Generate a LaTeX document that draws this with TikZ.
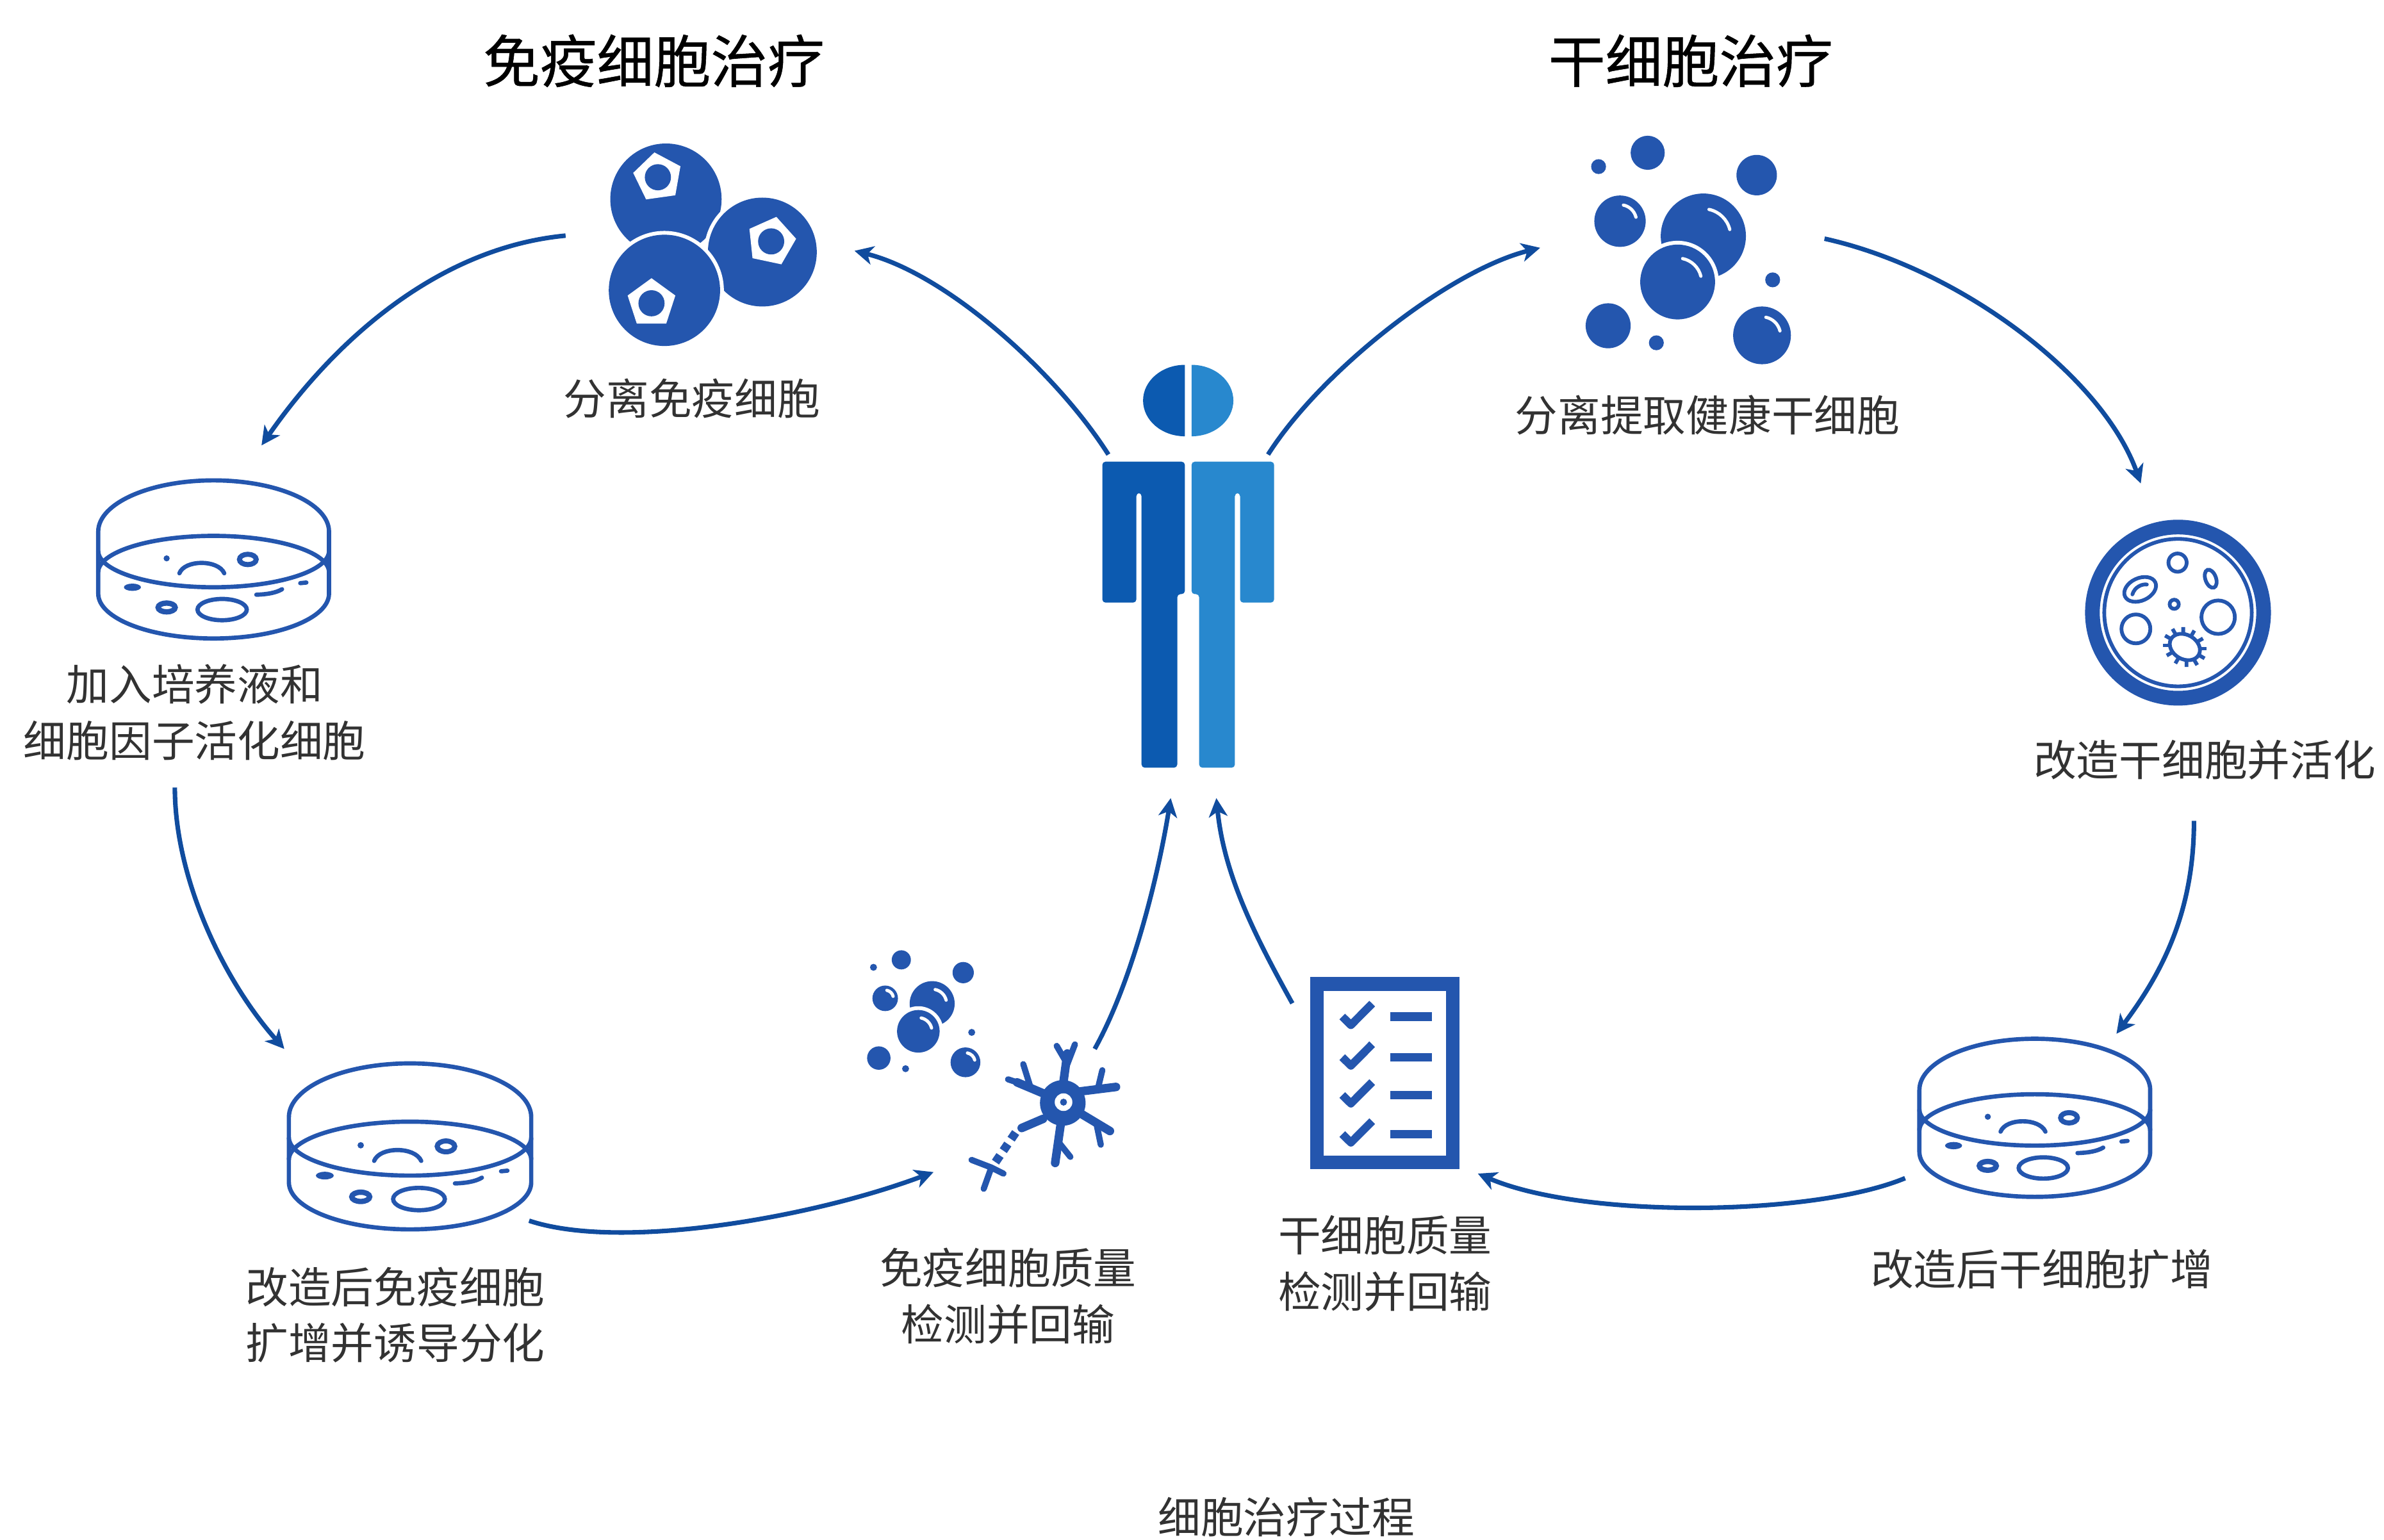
\documentclass[tikz,border=0pt]{standalone}
\usepackage{fontspec}
\setmainfont{Noto Sans CJK SC}
\newfontfamily\ttlfont[FakeBold=0.6]{Noto Sans CJK SC}
\usetikzlibrary{arrows.meta, shapes.geometric}

\definecolor{iconblue}{RGB}{36,86,174}
\definecolor{flowblue}{RGB}{16,76,158}
\definecolor{mandark}{RGB}{12,90,176}
\definecolor{manlight}{RGB}{40,136,206}
\definecolor{txtgray}{RGB}{50,50,50}

\tikzset{
  flow/.style={flowblue, line width=1.7pt, -{Stealth[length=7pt, width=7pt, inset=2pt]}},
  lbl/.style={text=txtgray, align=center, inner sep=0pt, font=\fontsize{16}{21}\selectfont},
  ttl/.style={text=black, inner sep=0pt, font=\ttlfont\fontsize{21.3}{25}\selectfont},
  shine/.style={white, line width=1.2pt, line cap=round},
  dishline/.style={iconblue, line width=1.6pt},
  thin/.style={iconblue, line width=1.4pt},
  nucleus/.style={regular polygon, regular polygon sides=5, fill=white, inner sep=0pt, minimum size=0.66cm},
}

% ball with a white glint
\newcommand\ball[3]{%
  \fill[iconblue] (#1,#2) circle[radius=#3];
  \draw[shine] (#1,#2) ++(-78:{0.64*#3}) arc[start angle=-78, end angle=-14, radius={0.64*#3}];}
% ball sitting in front of another one
\newcommand\frontball[3]{%
  \fill[white] (#1,#2) circle[radius={#3+2.5}];
  \ball{#1}{#2}{#3}}
\newcommand\speck[3]{\fill[iconblue] (#1,#2) circle[radius=#3];}

% culture dish: name, centre x, top y, scale
\newcommand\petridish[4]{%
  \begin{scope}[shift={(#2,#3)}, scale=#4]
    \coordinate (#1) at (0,52);
    \draw[dishline, line join=round] (-75.9,33.7) arc[start angle=180, end angle=360, x radius=75.9, y radius=33.7]
      -- (75.9,74.5) arc[start angle=0, end angle=180, x radius=75.9, y radius=29.5] -- cycle;
    \draw[dishline] (-75.9,46.4) arc[start angle=180, end angle=0, x radius=75.9, y radius=23.9];
    \draw[dishline] (-75.9,60.4) arc[start angle=180, end angle=360, x radius=75.9, y radius=23.9];
    \fill[iconblue] (-30.9,51.3) circle[radius=2];
    \draw[dishline, line cap=round] (-22.5,61.1) .. controls (-19,52) and (3,52) .. (7,61.1);
    \draw[iconblue, line width=1.9pt] (22.5,52) ellipse[x radius=5.5, y radius=3.4];
    \fill[iconblue] (-53.4,70.3) ellipse[x radius=5.6, y radius=2.4];
    \draw[dishline, line cap=round] (28.1,75.2) .. controls (35,75) and (41,74) .. (45,71.6);
    \draw[dishline, line cap=round] (57,67.6) -- (61,67.2);
    \draw[iconblue, line width=2pt] (-30.9,83.6) ellipse[x radius=5.6, y radius=2.9];
    \draw[dishline] (5.6,85) ellipse[x radius=16.2, y radius=7];
  \end{scope}}

\begin{document}
\begin{tikzpicture}[x=0.02cm, y=-0.02cm]
  \useasboundingbox (0,0) rectangle (1568,1013);

  \node[ttl] (ttlImm) at (430,40) {免疫细胞治疗};
  \node[ttl] (ttlStem) at (1112,40) {干细胞治疗};

  % immune cells
  \fill[iconblue] (438,131) circle[radius=36.6];
  \node[nucleus, rotate=8] (nuc1) at (432.7,116.6) {};
  \fill[iconblue] (nuc1.center) circle[radius=8.6];
  \fill[white] (501.4,165.8) circle[radius=38.3];
  \fill[iconblue] (501.4,165.8) circle[radius=35.8];
  \node[nucleus, rotate=-12] (nuc2) at (507.2,158.8) {};
  \fill[iconblue] (nuc2.center) circle[radius=8.6];
  \fill[white] (437,191) circle[radius=39.1];
  \fill[iconblue] (437,191) circle[radius=36.6];
  \node[nucleus] (nuc3) at (428.5,199.5) {};
  \fill[iconblue] (nuc3.center) circle[radius=8.6];
  \node[lbl] (labIso) at (455,262) {分离免疫细胞};

  % stem cells
  \speck{1051.4}{109.6}{4.9}
  \speck{1083.7}{100.5}{11.2}
  \speck{1155.4}{115.2}{13.3}
  \ball{1065.5}{145.5}{16.9}
  \ball{1120.3}{155.3}{28}
  \frontball{1103.4}{185.5}{24.6}
  \speck{1165.9}{184.1}{4.9}
  \speck{1057.7}{214.3}{14.8}
  \speck{1089.4}{225.5}{4.9}
  \ball{1158.9}{220.6}{19}
  \node[lbl] (labIsoS) at (1123,273) {分离提取健康干细胞};

  % patient
  \begin{scope}[shift={(781.5,0)}]
    \fill[mandark] (-2.2,240) arc[start angle=270, end angle=90, x radius=27.5, y radius=23.5] -- cycle;
    \fill[manlight] (2.2,240) arc[start angle=-90, end angle=90, x radius=27.5, y radius=23.5] -- cycle;
    \fill[mandark, rounded corners=1.2pt] (-2.2,303.7) -- (-56.5,303.7) -- (-56.5,396.4) -- (-34.1,396.4)
      -- (-34.1,324.3) -- (-30.7,324.3) -- (-30.7,505) -- (-7.2,505) -- (-7.2,390.8) -- (-2.2,390.8) -- cycle;
    \fill[manlight, rounded corners=1.2pt] (2.2,303.7) -- (56.5,303.7) -- (56.5,396.4) -- (34.1,396.4)
      -- (34.1,324.3) -- (30.7,324.3) -- (30.7,505) -- (7.2,505) -- (7.2,390.8) -- (2.2,390.8) -- cycle;
  \end{scope}
  \coordinate (shL) at (729,299);
  \coordinate (shR) at (834,299);
  \coordinate (footL) at (770,525);
  \coordinate (footR) at (800,525);

  % culture dishes
  \petridish{dishA}{140.5}{316}{1}
  \petridish{dishB}{269.7}{699.5}{1.05}
  \petridish{dishC}{1338.3}{683.3}{1}
  \node[lbl] (labCul) at (128,468.5) {加入培养液和\\细胞因子活化细胞};
  \node[lbl] (labExp) at (260,865) {改造后免疫细胞\\扩增并诱导分化};
  \node[lbl] (labExpS) at (1343,835) {改造后干细胞扩增};

  % activated stem cells
  \draw[iconblue, line width=5.5pt] (1432.5,403) circle[radius=56.3];
  \draw[thin] (1432.5,403) circle[radius=48.5];
  \draw[thin] (1432.2,370.1) circle[radius=6];
  \draw[thin, rotate around={25:(1407.6,387.7)}] (1407.6,387.7) ellipse[x radius=11, y radius=7.4];
  \draw[thin, line cap=round] (1402.5,391) .. controls (1404,386) and (1409,384) .. (1412,384.5);
  \draw[thin, rotate around={20:(1454,380.7)}] (1454,380.7) ellipse[x radius=3.5, y radius=6.2];
  \draw[thin] (1430,397.5) circle[radius=3];
  \draw[thin] (1404.8,413.7) circle[radius=9.5];
  \draw[thin] (1458.9,406) circle[radius=11];
  \begin{scope}[shift={(1437,425.6)}, rotate=-30]
    \draw[thin] (0,0) ellipse[x radius=10.5, y radius=8];
    \foreach \a in {0,30,...,330}
      \draw[thin] ({10.5*cos(\a)},{8*sin(\a)}) -- ({15*cos(\a)},{12.5*sin(\a)});
  \end{scope}
  \node[lbl] (labAct) at (1450,500) {改造干细胞并活化};

  % cells before reinfusion
  \speck{574.5}{636.3}{2.3}
  \speck{592.8}{631.4}{6.3}
  \speck{633.5}{639.8}{7}
  \ball{582.2}{656.7}{8.4}
  \ball{613.1}{660.2}{14.8}
  \frontball{604}{678.4}{14}
  \speck{639.1}{679.1}{2.3}
  \speck{578}{696}{7.7}
  \speck{595.6}{703}{2.3}
  \ball{635}{698.8}{9.8}

  % neuron
  \begin{scope}[iconblue, line width=3.2pt, line cap=round]
    \fill (699,725.5) circle[radius=15];
    \draw (699,715) -- (702,693);
    \draw[line width=2.3pt] (702,700) -- (695,688) (702,700) -- (707,687);
    \draw (688,720) -- (669,712);
    \draw[line width=2.3pt] (678,716) -- (673,700) (669,712) -- (663,710);
    \draw (710,718) -- (734,715);
    \draw[line width=2.3pt] (722,716.5) -- (725,704);
    \draw (710,732) -- (730,744);
    \draw[line width=2.3pt] (721,738.5) -- (724,753);
    \draw (698,737) -- (694,765);
    \draw[line width=2.3pt] (696,751) -- (704,761);
    \draw (686,736) -- (672,742);
    \draw[dash pattern=on 3pt off 2.2pt, line cap=butt] (668,745) -- (653,767);
    \draw[line width=2.3pt] (652,768) -- (639,763) (652,768) -- (647,782) (652,768) -- (660,772);
  \end{scope}
  \fill[white] (699.5,725) circle[radius=5.8];
  \fill[iconblue] (699.5,725) circle[radius=2.3];
  \node[lbl] (labQcI) at (663,852.5) {免疫细胞质量\\检测并回输};

  % quality checklist
  \draw[iconblue, line width=5.1pt] (866.3,647.2) rectangle (955.6,764.6);
  \foreach \b in {668.7,695.4,720.3,746}{
    \draw[iconblue, line width=3pt, line join=round] (882.8,\b) -- (888.5,\b+5.6) -- (902.5,\b-8.5);
    \draw[iconblue, line width=3.2pt] (914.5,\b) -- (941.9,\b);
  }
  \node[lbl] (labQcS) at (911,831) {干细胞质量\\检测并回输};

  \node[lbl] (caption) at (846,998) {细胞治疗过程};

  % loop of the immune-cell route
  \coordinate (immOut) at (372,155);
  \coordinate (immIn) at (562,165);
  \coordinate (dishAIn) at (172,293);
  \coordinate (dishAOut) at (115,518);
  \coordinate (dishBIn) at (187,690);
  \coordinate (dishBOut) at (348,803);
  \coordinate (neurIn) at (614,771);
  \coordinate (neurOut) at (720,690);
  \draw[flow] (shL) .. controls +(-35,-55) and +(60,15) .. (immIn);
  \draw[flow] (immOut) .. controls +(-84,8) and +(48,-69) .. (dishAIn);
  \draw[flow] (dishAOut) .. controls +(0,60) and +(-40,-45) .. (dishBIn);
  \draw[flow] (dishBOut) .. controls +(60,20) and +(-80,30) .. (neurIn);
  \draw[flow] (neurOut) .. controls +(25,-45) and +(-8,50) .. (footL);

  % loop of the stem-cell route
  \coordinate (stemIn) at (1013,163);
  \coordinate (stemOut) at (1200,157);
  \coordinate (actIn) at (1408,318);
  \coordinate (actOut) at (1443,540);
  \coordinate (dishCIn) at (1392,680);
  \coordinate (dishCOut) at (1253,775);
  \coordinate (listIn) at (972,772);
  \coordinate (listOut) at (850,660);
  \draw[flow] (shR) .. controls +(35,-55) and +(-60,15) .. (stemIn);
  \draw[flow] (stemOut) .. controls +(90,20) and +(-25,-70) .. (actIn);
  \draw[flow] (actOut) .. controls +(0,60) and +(30,-40) .. (dishCIn);
  \draw[flow] (dishCOut) .. controls +(-60,25) and +(70,30) .. (listIn);
  \draw[flow] (listOut) .. controls +(-25,-45) and +(5,50) .. (footR);
\end{tikzpicture}
\end{document}
